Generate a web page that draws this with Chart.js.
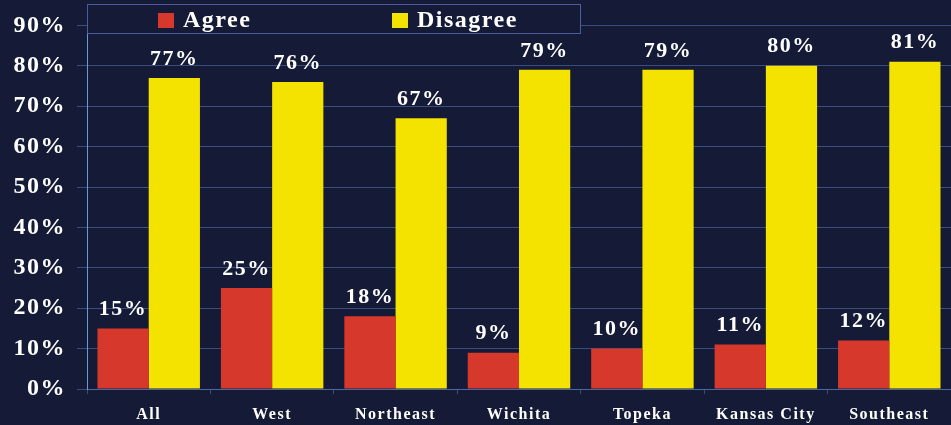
<!DOCTYPE html>
<html>
<head>
<meta charset="utf-8">
<script src="https://cdn.jsdelivr.net/npm/chart.js@4/dist/chart.umd.min.js"></script>
<style>
  html, body { margin: 0; padding: 0; background: #151b36; overflow: hidden; }
</style>
</head>
<body>
<canvas id="grafico" width="951" height="425"></canvas>
<script>
// dados do gráfico
const regioes = ['All', 'West', 'Northeast', 'Wichita', 'Topeka', 'Kansas City', 'Southeast'];
const agree = [15, 25, 18, 9, 10, 11, 12];
const disagree = [77, 76, 67, 79, 79, 80, 81];
const nomesSeries = ['Agree', 'Disagree'];
const coresSeries = ['#d6392b', '#f4e300'];

const serifa = "'Liberation Serif', 'Times New Roman', serif";
const fundo = '#151b36';
const grade = 'rgba(92, 130, 200, 0.5)';

// fundo escuro do canvas
const pluginFundo = {
  id: 'fundo',
  beforeDraw(chart) {
    const ctx = chart.ctx;
    ctx.save();
    ctx.fillStyle = fundo;
    ctx.fillRect(0, 0, chart.width, chart.height);
    ctx.restore();
    ctx.letterSpacing = '1.5px';
  }
};

// porcentagens em cima das barras
const pluginValores = {
  id: 'valores',
  afterDatasetsDraw(chart) {
    const ctx = chart.ctx;
    ctx.save();
    ctx.font = 'bold 22px ' + serifa;
    ctx.fillStyle = '#ffffff';
    ctx.textAlign = 'center';
    ctx.textBaseline = 'middle';
    ctx.letterSpacing = '1.5px';
    chart.data.datasets.forEach((ds, i) => {
      chart.getDatasetMeta(i).data.forEach((barra, j) => {
        ctx.fillText(ds.data[j] + '%', barra.x, barra.y - 19);
      });
    });
    ctx.restore();
  }
};

// legenda dentro de uma caixa no topo
const pluginLegenda = {
  id: 'legendaCaixa',
  afterDraw(chart) {
    const ctx = chart.ctx;
    const x0 = chart.chartArea.left, y0 = 4, w = 493, h = 29;
    ctx.save();
    ctx.fillStyle = fundo;
    ctx.fillRect(x0, y0, w, h);
    ctx.strokeStyle = 'rgba(80, 100, 170, 0.9)';
    ctx.lineWidth = 1;
    ctx.strokeRect(x0 + 0.5, y0 + 0.5, w, h);
    ctx.font = 'bold 24px ' + serifa;
    ctx.textBaseline = 'middle';
    ctx.textAlign = 'left';
    ctx.letterSpacing = '1.5px';
    const posicoes = [158, 392];
    chart.data.datasets.forEach((ds, i) => {
      const px = posicoes[i];
      ctx.fillStyle = ds.backgroundColor;
      ctx.fillRect(px, 13, 16, 15);
      ctx.fillStyle = '#ffffff';
      ctx.fillText(ds.label, px + 25, 21);
    });
    ctx.restore();
  }
};

const dataRegioes = {
  labels: regioes,
  datasets: [
    { label: nomesSeries[0], data: agree, backgroundColor: coresSeries[0] },
    { label: nomesSeries[1], data: disagree, backgroundColor: coresSeries[1] }
  ]
};

const options = {
  responsive: false,
  animation: false,
  layout: { padding: { top: 23, right: 0, left: 0, bottom: 0 } },
  datasets: {
    bar: { categoryPercentage: 0.83, barPercentage: 1.0, borderWidth: 0 }
  },
  scales: {
    x: {
      afterFit(scale) { scale.height = 36; },
      grid: { drawOnChartArea: false, offset: true, color: grade, tickLength: 5 },
      border: { color: grade },
      ticks: {
        color: '#ffffff',
        padding: 11,
        maxRotation: 0,
        font: { family: serifa, size: 16, weight: 'bold' }
      }
    },
    y: {
      min: 0,
      max: 90,
      afterFit(scale) { scale.width = 87; },
      grid: { color: grade, tickLength: 10 },
      border: { color: '#6a9ad6' },
      ticks: {
        stepSize: 10,
        color: '#ffffff',
        padding: 11,
        font: { family: serifa, size: 24, weight: 'bold' },
        callback: v => v + '%'
      }
    }
  },
  plugins: {
    legend: { display: false },
    tooltip: { enabled: false }
  }
};

const grafico = new Chart(document.getElementById('grafico'), {
  type: 'bar',
  data: dataRegioes,
  options: options,
  plugins: [pluginFundo, pluginValores, pluginLegenda]
});
</script>
</body>
</html>
